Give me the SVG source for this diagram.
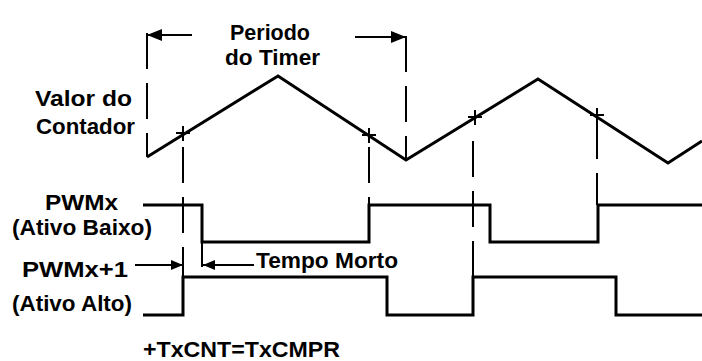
<svg xmlns="http://www.w3.org/2000/svg" width="702" height="361" viewBox="0 0 702 361">
<defs>
<style>
text{font-family:"Liberation Sans",Arial,sans-serif;font-weight:bold;font-size:22px;fill:#000}
.wave{fill:none;stroke:#000;stroke-width:3;stroke-linejoin:miter}
.dash{fill:none;stroke:#000;stroke-width:2;stroke-dasharray:36,14}
.solid{fill:none;stroke:#000;stroke-width:2}
.mark{fill:none;stroke:#000;stroke-width:2}
</style>
<marker id="ah" viewBox="0 0 12 10" refX="12" refY="5" markerWidth="12" markerHeight="10" markerUnits="userSpaceOnUse" orient="auto">
<path d="M0,0 L12,5 L0,10 Z" fill="#000"/>
</marker>
<marker id="ahBig" viewBox="0 0 15 12" refX="15" refY="6" markerWidth="15" markerHeight="12" markerUnits="userSpaceOnUse" orient="auto">
<path d="M0,0 L15,6 L0,12 Z" fill="#000"/>
</marker>
</defs>

<g id="labels">
<text x="230" y="40" textLength="80" lengthAdjust="spacingAndGlyphs">Periodo</text>
<text x="225" y="65" textLength="95" lengthAdjust="spacingAndGlyphs">do Timer</text>
<text x="35" y="106" textLength="97" lengthAdjust="spacingAndGlyphs">Valor do</text>
<text x="36" y="134" textLength="99" lengthAdjust="spacingAndGlyphs">Contador</text>
<text x="45" y="210" textLength="73" lengthAdjust="spacingAndGlyphs">PWMx</text>
<text x="12" y="235" textLength="140" lengthAdjust="spacingAndGlyphs">(Ativo Baixo)</text>
<text x="22" y="277" textLength="106" lengthAdjust="spacingAndGlyphs">PWMx+1</text>
<text x="12" y="311" textLength="120" lengthAdjust="spacingAndGlyphs">(Ativo Alto)</text>
<text x="256" y="268" textLength="142" lengthAdjust="spacingAndGlyphs">Tempo Morto</text>
<text x="143" y="357" textLength="197" lengthAdjust="spacingAndGlyphs">+TxCNT=TxCMPR</text>
</g>

<g id="counter">
<polyline class="wave" points="147,157 278,76 406,160 538,79 668,163 702,141"/>
</g>

<g id="pwmx">
<polyline class="wave" points="143,205 202,205 202,242 369,242 369,205 490,205 490,242 598,242 598,205 702,205"/>
</g>

<g id="pwmx1">
<polyline class="wave" points="143,315 183,315 183,277 387,277 387,315 473,315 473,277 616,277 616,315 702,315"/>
</g>

<g id="marks">
<path class="mark" d="M176,133 H190 M183,126 V141"/>
<path class="mark" d="M362,135 H376 M369,128 V143"/>
<path class="mark" d="M468,117 H482 M475,110 V125"/>
<path class="mark" d="M590,115 H604 M597,108 V123"/>
</g>

<g id="connectors">
<line class="dash" x1="147" y1="33" x2="147" y2="157"/>
<line class="dash" x1="406" y1="36" x2="406" y2="160"/>
<line class="dash" x1="183" y1="143" x2="183" y2="277" stroke-dashoffset="-4"/>
<line class="dash" x1="369" y1="143" x2="369" y2="205" stroke-dashoffset="-4"/>
<line class="dash" x1="473" y1="141" x2="473" y2="277"/>
<line class="dash" x1="597" y1="123" x2="597" y2="205"/>
<line class="solid" x1="202" y1="242" x2="202" y2="267"/>
<line class="solid" x1="192" y1="35" x2="147" y2="35" marker-end="url(#ahBig)"/>
<line class="solid" x1="355" y1="37" x2="406" y2="37" marker-end="url(#ahBig)"/>
<line class="solid" x1="135" y1="265" x2="183" y2="265" marker-end="url(#ah)"/>
<line class="solid" x1="254" y1="265" x2="203" y2="265" marker-end="url(#ah)"/>
</g>
</svg>
